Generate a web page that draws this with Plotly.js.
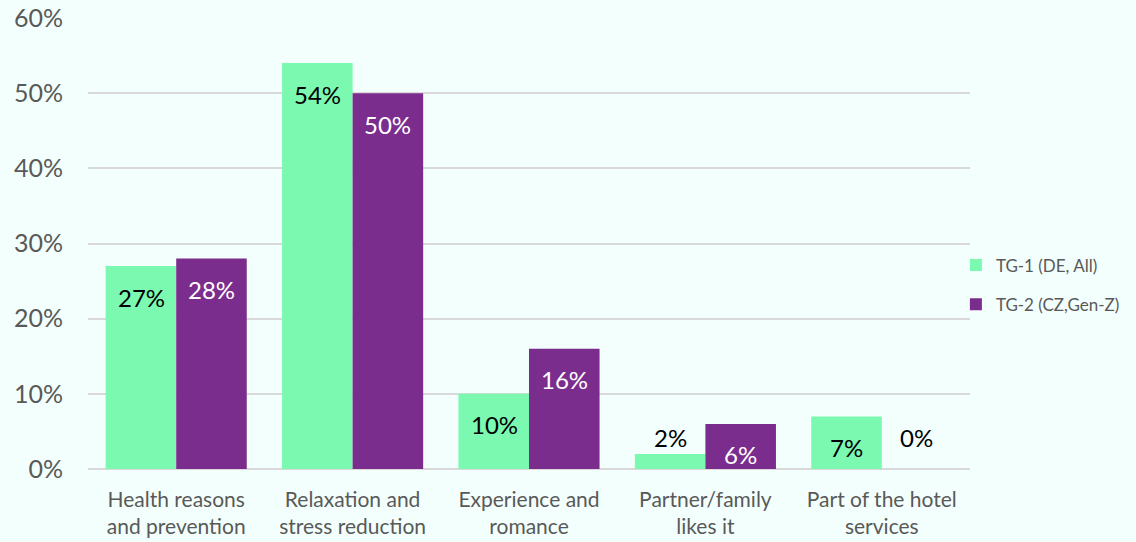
<!DOCTYPE html>
<html>
<head>
<meta charset="utf-8">
<script src="https://cdn.plot.ly/plotly-3.0.1.min.js"></script>
<style>
html,body{margin:0;padding:0;background:#F3FFFC;}
#chart{width:1136px;height:542px;}
</style>
</head>
<body>
<div id="chart"></div>
<script>
const categories = [
  "Health reasons<br>and prevention",
  "Relaxation and<br>stress reduction",
  "Experience and<br>romance",
  "Partner/family<br>likes it",
  "Part of the hotel<br>services"
];
const seriesNames = ["TG-1 (DE, All)", "TG-2 (CZ,Gen-Z)"];
const tg1 = [0.27, 0.54, 0.10, 0.02, 0.07];
const tg2 = [0.28, 0.50, 0.16, 0.06, 0.00];
const tickVals = [0, 0.1, 0.2, 0.3, 0.4, 0.5, 0.6];
const tickText = ["0%", "10%", "20%", "30%", "40%", "50%", "60%"];

const colors = ["#7CF9B0", "#7B2D8E"];
const labelColors = ["#000000", "#FFFFFF"];
const FONT = "Lato, 'Open Sans', sans-serif";

const traces = [tg1, tg2].map((vals, i) => ({
  type: "bar",
  name: seriesNames[i],
  legendgroup: "g" + i,
  x: categories,
  y: vals,
  marker: {color: colors[i]},
  hoverinfo: "none"
}));

const annotations = [];
[tg1, tg2].forEach((vals, s) => {
  vals.forEach((v, k) => {
    const inside = v >= 0.05;
    annotations.push({
      x: categories[k],
      y: inside ? v : Math.max(v, 0.02),
      xref: "x", yref: "y",
      text: Math.round(v * 100) + "%",
      showarrow: false,
      xshift: s === 0 ? -35 : 35,
      yshift: inside ? -31 : 0,
      yanchor: inside ? "middle" : "bottom",
      font: {family: FONT, size: 24, color: inside ? labelColors[s] : "#000000"}
    });
  });
});

const layout = {
  width: 1136, height: 542,
  paper_bgcolor: "#F3FFFC",
  plot_bgcolor: "#F3FFFC",
  margin: {l: 88, r: 166, t: 18, b: 73, autoexpand: false},
  barmode: "group",
  bargap: 0.2,
  bargroupgap: 0,
  font: {family: FONT, color: "#595959"},
  xaxis: {
    type: "category",
    tickfont: {family: FONT, size: 21, color: "#595959"},
    showline: false, ticks: "", showgrid: false,
    zeroline: false,
    ticklabelstandoff: 16,
    automargin: false
  },
  yaxis: {
    range: [0, 0.6],
    tickvals: tickVals,
    ticktext: tickText,
    tickfont: {family: FONT, size: 25, color: "#595959"},
    gridcolor: "#D9D9D9", gridwidth: 2,
    zeroline: true, zerolinecolor: "#D9D9D9", zerolinewidth: 2,
    ticks: "", ticklen: 0,
    ticklabelstandoff: 24,
    automargin: false
  },
  legend: {
    x: 0.984, xanchor: "left", y: 0.408, yanchor: "middle",
    font: {family: FONT, size: 17, color: "#595959"},
    bgcolor: "rgba(0,0,0,0)",
    tracegroupgap: 14,
    itemwidth: 30
  },
  annotations: annotations,
  showlegend: true
};

Plotly.newPlot("chart", traces, layout, {displayModeBar: false, staticPlot: true});
</script>
</body>
</html>
